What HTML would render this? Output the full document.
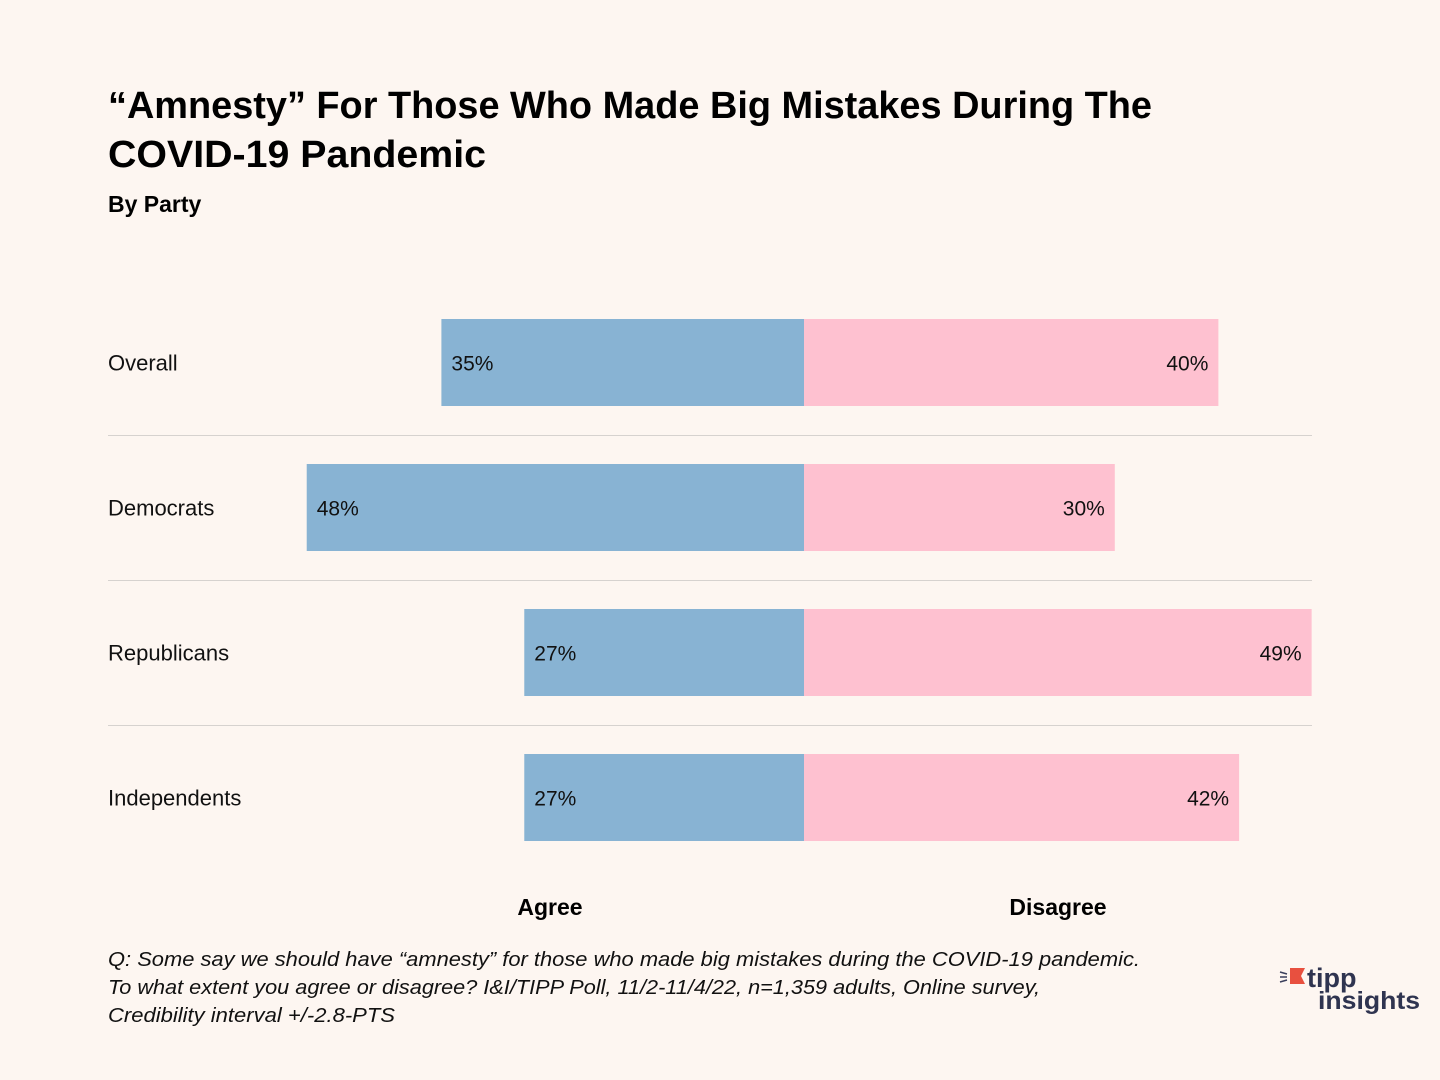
<!DOCTYPE html>
<html><head><meta charset="utf-8"><style>
html,body{margin:0;padding:0;background:#fdf6f1;}
svg{display:block;font-family:"Liberation Sans",sans-serif;}
</style></head><body>
<svg id="chart" width="1440" height="1080" viewBox="0 0 1440 1080" xmlns="http://www.w3.org/2000/svg">
<rect width="1440" height="1080" fill="#fdf6f1"/>
<text x="108" y="118" font-size="38" font-weight="bold" fill="#000" textLength="1044" lengthAdjust="spacingAndGlyphs">“Amnesty” For Those Who Made Big Mistakes During The</text>
<text x="108" y="167" font-size="38" font-weight="bold" fill="#000" textLength="378" lengthAdjust="spacingAndGlyphs">COVID-19 Pandemic</text>
<text x="108" y="212" font-size="23" font-weight="bold" fill="#000">By Party</text>
<g id="bars"></g>
<text x="550" y="915" font-size="23" font-weight="bold" text-anchor="middle">Agree</text>
<text x="1058" y="915" font-size="23" font-weight="bold" text-anchor="middle">Disagree</text>
<g font-size="20" font-style="italic" fill="#111">
<text x="108" y="966" textLength="1032" lengthAdjust="spacingAndGlyphs">Q: Some say we should have “amnesty” for those who made big mistakes during the COVID-19 pandemic.</text>
<text x="108" y="994" textLength="932" lengthAdjust="spacingAndGlyphs">To what extent you agree or disagree? I&amp;I/TIPP Poll, 11/2-11/4/22, n=1,359 adults, Online survey,</text>
<text x="108" y="1022" textLength="287" lengthAdjust="spacingAndGlyphs">Credibility interval +/-2.8-PTS</text>
</g>
<g>
<polygon points="1290,968 1305,968 1301,976 1305,984 1290,984" fill="#e8503f"/>
<path d="M1280,972 l7,2 M1280,977 l7,0 M1280,982 l7,-2" stroke="#3a3f5c" stroke-width="1.5"/>
<text x="1307" y="987" font-size="27" font-weight="bold" fill="#2f3450">tipp</text>
<text x="1318" y="1009" font-size="25" font-weight="bold" fill="#2f3450" textLength="102" lengthAdjust="spacingAndGlyphs">insights</text>
</g>
</svg>
<script>
const categories = ["Overall","Democrats","Republicans","Independents"];
const agreeValues = [35,48,27,27];
const disagreeValues = [40,30,49,42];

const NS="http://www.w3.org/2000/svg";
const g=document.getElementById('bars');
const cx=804, pxPer=10.36, rowTop=319, rowStep=145, barH=87;
function xAgree(v){return cx - v*pxPer;}
function xDis(v){return cx + v*pxPer;}
function mk(tag,attrs){const e=document.createElementNS(NS,tag);for(const k in attrs)e.setAttribute(k,attrs[k]);return e;}
categories.forEach((c,i)=>{
  const y=rowTop+i*rowStep;
  const lab=mk('text',{x:108,y:y+barH/2+8,'font-size':22,fill:'#111'});
  lab.textContent=c;
  
  
  g.appendChild(lab);
  const a=mk('rect',{x:xAgree(agreeValues[i]),y:y,width:cx-xAgree(agreeValues[i]),height:barH,fill:'#88b3d3'});
  
  
  g.appendChild(a);
  const d=mk('rect',{x:cx,y:y,width:xDis(disagreeValues[i])-cx,height:barH,fill:'#fec1d0'});
  
  
  g.appendChild(d);
  const at=mk('text',{x:xAgree(agreeValues[i])+10,y:y+barH/2+8,'font-size':21,fill:'#111'});
  at.textContent=agreeValues[i]+'%';
  
  
  g.appendChild(at);
  const dt=mk('text',{x:xDis(disagreeValues[i])-10,y:y+barH/2+8,'font-size':21,fill:'#111','text-anchor':'end'});
  dt.textContent=disagreeValues[i]+'%';
  
  
  g.appendChild(dt);
  if(i<categories.length-1){
    const ln=mk('line',{x1:108,x2:1312,y1:y+barH+29.5,y2:y+barH+29.5,stroke:'#d6d2cf','stroke-width':1});
    
    
    g.appendChild(ln);
  }
});
</script>
</body></html>
